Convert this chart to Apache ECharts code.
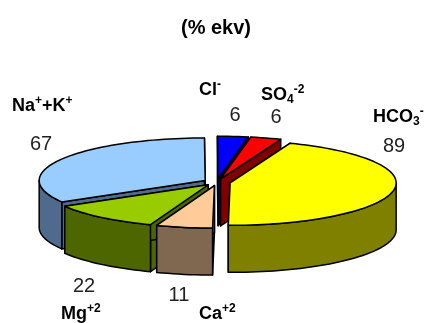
<!DOCTYPE html>
<html><head><meta charset="utf-8">
<style>html,body{margin:0;padding:0;background:#fff}#c{width:427px;height:323px}</style>
<script src="https://cdn.jsdelivr.net/npm/echarts@6/dist/echarts.min.js"></script>
</head><body><div id="c"></div>
<script>
// Data, clockwise from 12 o'clock
const categories = ['Cl-', 'SO4-2', 'HCO3-', 'Ca+2', 'Mg+2', 'Na++K+'];
const values = [6, 6, 89, 11, 22, 67];
const titleText = '(% ekv)';
// Rich-text forms of the category names
const richNames = ['{b|Cl}{sup|-}', '{b|SO}{sub|4}{sup|-2}', '{b|HCO}{sub|3}{sup|-}', '{b|Ca}{sup|+2}', '{b|Mg}{sup|+2}', '{b|Na}{sup|+}{b|+K}{sup|+}'];

// Styles and layout
const topColors  = ['#0000ff', '#ff0000', '#ffff00', '#ffcc99', '#99cc00', '#99ccff'];
const wallColors = ['#000080', '#800000', '#808000', '#806750', '#4d6600', '#4f6a8c'];
const namePos  = [[199, 90], [261, 95], [373, 117], [199, 314], [61, 314], [12, 106]];
const valuePos = [[235, 115], [276, 117], [394, 146], [179, 295], [84, 286], [41, 144]];
const drawOrder = [0, 1, 5, 2, 4, 3];
const G = { cx: 216.9, cy: 182.2, rx: 166, ry: 42.5, depth: 47, explode: 13.5, startAngle: -0.25 };

const total = values.reduce((a, b) => a + b, 0);
const rad = d => d * Math.PI / 180;
const starts = []; values.reduce((acc, v, i) => { starts[i] = acc; return acc + v; }, 0);

function renderSlice(params, api) {
  const i = api.value(0), v = api.value(1);
  const a0 = G.startAngle + starts[i] / total * 360, a1 = a0 + v / total * 360, mid = (a0 + a1) / 2;
  const ox = G.cx + G.explode * Math.sin(rad(mid));
  const oy = G.cy - G.explode * Math.cos(rad(mid)) * G.ry / G.rx;
  const pt = (a, dz) => [ox + G.rx * Math.sin(rad(a)), oy - G.ry * Math.cos(rad(a)) + (dz || 0)];
  const arc = (s, e, dz) => {
    const n = Math.max(2, Math.ceil(Math.abs(e - s) / 2)), out = [];
    for (let k = 0; k <= n; k++) out.push(pt(s + (e - s) * k / n, dz));
    return out;
  };
  const line = { stroke: '#000', lineWidth: 1.5, lineJoin: 'round' };
  const poly = (points, fill) => ({ type: 'polygon', shape: { points }, style: Object.assign({ fill }, line) });
  const apex = [ox, oy], apexB = [ox, oy + G.depth];
  const children = [];
  // radial walls
  [a0, a1].forEach(a => children.push(poly([apex, pt(a), pt(a, G.depth), apexB], wallColors[i])));
  // outer wall (front-facing part only)
  const ws = Math.max(a0, 90), we = Math.min(a1, 270);
  if (we > ws) children.push(poly(arc(ws, we).concat(arc(we, ws, G.depth)), wallColors[i]));
  // top
  children.push(poly([apex].concat(arc(a0, a1)), topColors[i]));
  return { type: 'group', children };
}

const rich = {
  b:   { font: 'bold 18px "Liberation Sans"', fill: '#000', color: '#000', lineHeight: 22, verticalAlign: 'middle' },
  sup: { font: 'bold 12px "Liberation Sans"', fill: '#000', color: '#000', lineHeight: 22, verticalAlign: 'top' },
  sub: { font: 'bold 12px "Liberation Sans"', fill: '#000', color: '#000', lineHeight: 22, verticalAlign: 'bottom' }
};
const texts = [];
categories.forEach((c, i) => {
  texts.push({ type: 'text', x: namePos[i][0], y: namePos[i][1], z: 10,
    style: { text: richNames[i], rich, verticalAlign: 'middle', align: 'left' } });
  texts.push({ type: 'text', x: valuePos[i][0], y: valuePos[i][1], z: 10,
    style: { text: String(values[i]), font: '20px "Liberation Sans"', fill: '#222', align: 'center', verticalAlign: 'middle' } });
});
texts.push({ type: 'text', x: 216, y: 28, z: 10,
  style: { text: titleText, font: 'bold 20px "Liberation Sans"', fill: '#000', align: 'center', verticalAlign: 'middle' } });

const chart = echarts.init(document.getElementById('c'), null, { renderer: 'canvas' });
chart.setOption({
  animation: false,
  backgroundColor: '#fff',
  graphic: { elements: texts },
  series: [{
    type: 'custom',
    coordinateSystem: 'none',
    renderItem: renderSlice,
    encode: { value: 1, itemName: 2 },
    data: drawOrder.map(i => [i, values[i], categories[i]])
  }]
});
</script></body></html>
